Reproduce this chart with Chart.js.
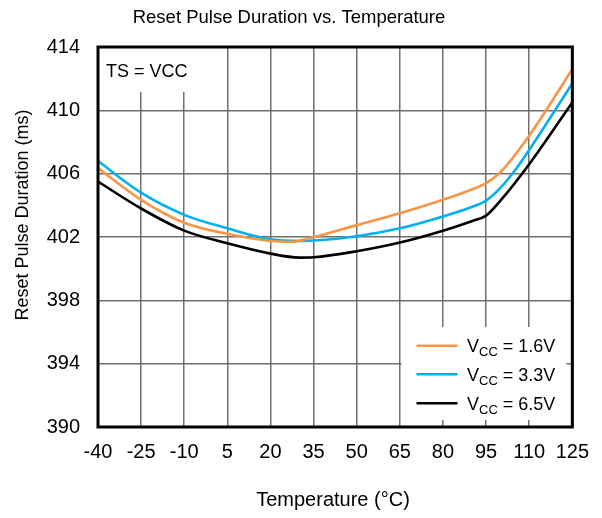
<!DOCTYPE html>
<html>
<head>
<meta charset="utf-8">
<script src="https://cdn.jsdelivr.net/npm/chart.js@4.4.1/dist/chart.umd.min.js"></script>
<style>
  html, body { margin: 0; padding: 0; background: #fff; }
  #wrap { width: 602px; height: 518px; }
</style>
</head>
<body>
<div id="wrap"><canvas id="myChart" width="602" height="518"></canvas></div>
<script>
// data
var temps1 = [-40, -25, -10, 5, 20, 27, 35, 50, 65, 80, 90, 95, 100, 110, 125];
var vcc16  = [406.35, 404.35, 402.9, 402.2, 401.75, 401.7, 402.0, 402.75, 403.5, 404.35, 405.0, 405.4, 406.1, 408.4, 412.6];

var temps2 = [-40, -25, -10, 5, 20, 30, 35, 50, 65, 80, 90, 95, 100, 105, 110, 125];
var vcc33  = [406.8, 404.8, 403.4, 402.55, 401.85, 401.75, 401.78, 402.05, 402.55, 403.3, 403.9, 404.3, 405.1, 406.2, 407.5, 411.7];

var temps3 = [-40, -25, -10, 5, 20, 30, 35, 50, 65, 80, 90, 95, 100, 110, 125];
var vcc65  = [405.5, 403.8, 402.4, 401.6, 400.95, 400.7, 400.72, 401.1, 401.65, 402.4, 403.0, 403.35, 404.3, 406.6, 410.5];

var xTicks = [-40, -25, -10, 5, 20, 35, 50, 65, 80, 95, 110, 125];
var yTicks = [390, 394, 398, 402, 406, 410, 414];

var seriesNames = ['1.6V', '3.3V', '6.5V'];
var seriesColors = ['#F79646', '#00B0F0', '#000000'];

var FONT = '"Liberation Sans", Arial, sans-serif';

function pts(xs, ys) {
  return xs.map(function (x, i) { return { x: x, y: ys[i] }; });
}

function makeSet(label, xs, ys, color) {
  return {
    label: label,
    data: pts(xs, ys),
    borderColor: color,
    backgroundColor: color,
    borderWidth: 2.6,
    pointRadius: 0,
    cubicInterpolationMode: 'monotone',
    fill: false
  };
}

// white boxes (annotation + legend) over the grid, frame, titles, legend
var boxesPlugin = {
  id: 'boxes',
  beforeDatasetsDraw: function (chart) {
    var ctx = chart.ctx;
    var a = chart.chartArea;
    ctx.save();
    ctx.fillStyle = '#fff';
    ctx.fillRect(a.left + 1, a.top + 1, 96, 44);
    ctx.fillRect(401.5, 327, a.right - 6 - 401.5, 93);
    ctx.restore();
  },
  afterDraw: function (chart) {
    var ctx = chart.ctx;
    var a = chart.chartArea;
    ctx.save();

    // frame
    ctx.strokeStyle = '#000';
    ctx.lineWidth = 3;
    ctx.strokeRect(a.left, a.top, a.right - a.left, a.bottom - a.top);

    ctx.fillStyle = '#000';
    // title
    ctx.font = '18.5px ' + FONT;
    ctx.textAlign = 'center';
    ctx.textBaseline = 'middle';
    ctx.fillText('Reset Pulse Duration vs. Temperature', 289, 18);

    // x title
    ctx.font = '20px ' + FONT;
    ctx.fillText('Temperature (\u00B0C)', 333, 500);

    // y title
    ctx.save();
    ctx.translate(23, 215);
    ctx.rotate(-Math.PI / 2);
    ctx.font = '18px ' + FONT;
    ctx.fillText('Reset Pulse Duration (ms)', 0, 0);
    ctx.restore();

    // annotation
    ctx.textAlign = 'left';
    ctx.font = '18px ' + FONT;
    ctx.fillText('TS = VCC', 106, 72);

    // legend
    var rows = [345.7, 374.3, 403.3];
    for (var i = 0; i < seriesNames.length; i++) {
      var y = rows[i];
      ctx.strokeStyle = seriesColors[i];
      ctx.lineWidth = 2.6;
      ctx.beginPath();
      ctx.moveTo(416.5, y);
      ctx.lineTo(457.5, y);
      ctx.stroke();

      ctx.textBaseline = 'alphabetic';
      ctx.font = '18px ' + FONT;
      ctx.fillText('V', 467, y + 6.5);
      var w = ctx.measureText('V').width;
      ctx.font = '13px ' + FONT;
      ctx.fillText('CC', 467 + w, y + 10.5);
      var w2 = ctx.measureText('CC').width;
      ctx.font = '18px ' + FONT;
      ctx.fillText(' = ' + seriesNames[i], 467 + w + w2, y + 6.5);
    }
    ctx.restore();
  }
};

var ctx = document.getElementById('myChart');
var myChart = new Chart(ctx, {
  type: 'line',
  data: {
    datasets: [
      makeSet('VCC = 1.6V', temps1, vcc16, seriesColors[0]),
      makeSet('VCC = 3.3V', temps2, vcc33, seriesColors[1]),
      makeSet('VCC = 6.5V', temps3, vcc65, seriesColors[2])
    ]
  },
  options: {
    responsive: false,
    animation: false,
    devicePixelRatio: 1,
    layout: { padding: { top: 47, right: 29, left: 0, bottom: 0 } },
    plugins: {
      legend: { display: false },
      title: { display: false },
      tooltip: { enabled: false }
    },
    scales: {
      x: {
        type: 'linear',
        min: -40,
        max: 125,
        afterBuildTicks: function (scale) {
          scale.ticks = xTicks.map(function (v) { return { value: v }; });
        },
        afterFit: function (scale) { scale.height = 91; },
        ticks: {
          color: '#000',
          padding: 13,
          maxRotation: 0,
          autoSkip: false,
          font: { size: 20, family: FONT }
        },
        grid: { color: '#707070', lineWidth: 1.5, drawTicks: false },
        border: { display: false }
      },
      y: {
        min: 390,
        max: 414,
        afterBuildTicks: function (scale) {
          scale.ticks = yTicks.map(function (v) { return { value: v }; });
        },
        afterFit: function (scale) { scale.width = 98; },
        ticks: {
          color: '#000',
          padding: 18,
          font: { size: 20, family: FONT }
        },
        grid: { color: '#707070', lineWidth: 1.5, drawTicks: false },
        border: { display: false }
      }
    }
  },
  plugins: [boxesPlugin]
});
</script>
</body>
</html>
